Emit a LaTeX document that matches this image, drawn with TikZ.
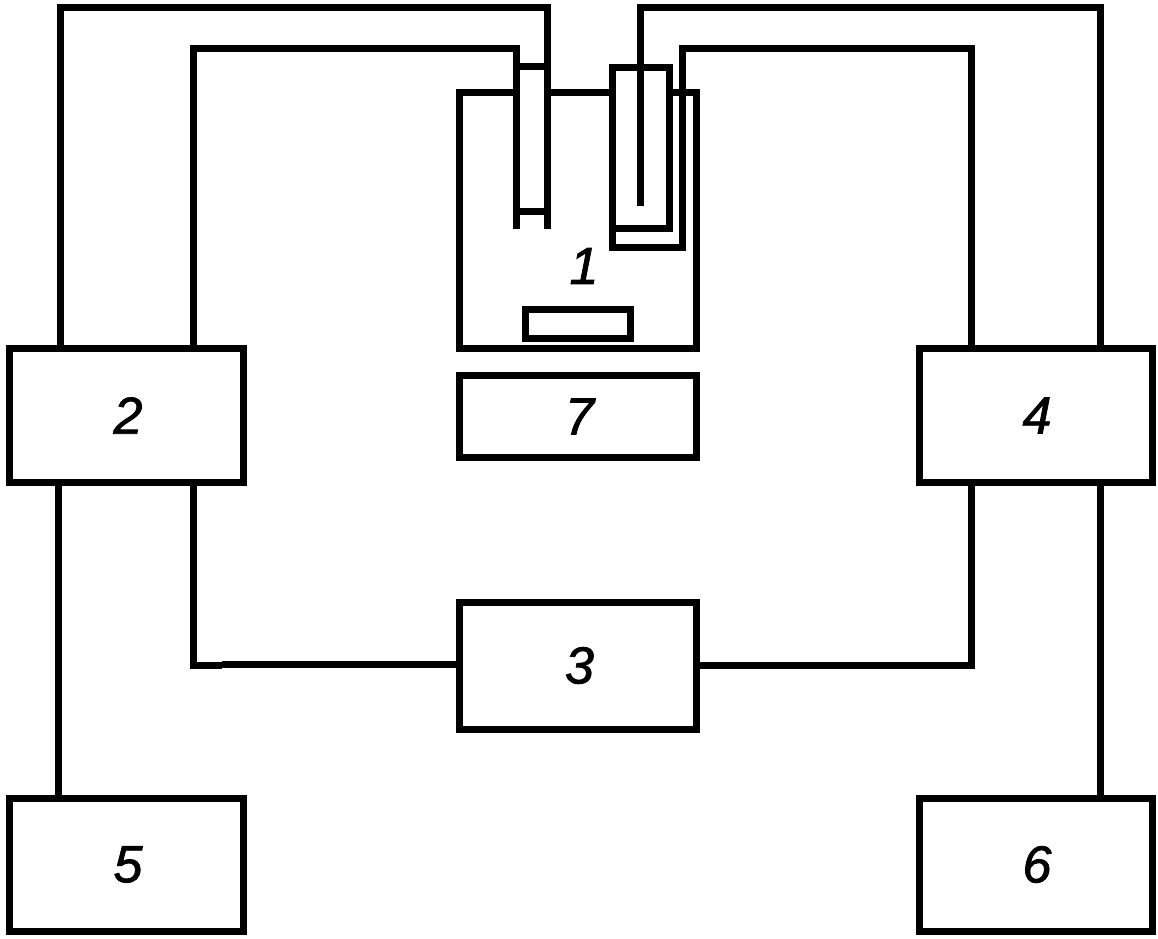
\documentclass[tikz,border=0pt]{standalone}
\usepackage{fontspec}
\setmainfont{Liberation Sans}
\newcommand{\numfmt}{\fontsize{52}{52}\selectfont\itshape\addfontfeature{FakeBold=1.5}}
\newcommand{\digit}[1]{\kern3pt\raisebox{-1pt}{#1}}
\begin{document}
\begin{tikzpicture}[x=1pt,y=-1pt,
  wire/.style={line width=7pt,draw=black,line cap=butt,line join=miter},
  blockbox/.style={draw=black,line width=7pt,rectangle,outer sep=0pt,inner sep=0pt,anchor=north west,font=\numfmt},
  numlabel/.style={inner sep=0pt,font=\numfmt}]
\useasboundingbox (0,0) rectangle (1158,938);
\fill[white] (0,0) rectangle (1158,938);
% blocks
\node[blockbox,minimum width=234pt,minimum height=134pt] (b2) at (9.5,348.5) {\digit{2}};
\node[blockbox,minimum width=233pt,minimum height=134pt] (b4) at (919,348.5) {\digit{4}};
\node[blockbox,minimum width=234pt,minimum height=133pt] (b5) at (9.5,798) {\digit{5}};
\node[blockbox,minimum width=233pt,minimum height=133pt] (b6) at (919,798) {\digit{6}};
\node[blockbox,minimum width=237pt,minimum height=127pt] (b3) at (459.5,602) {\digit{3}};
\node[blockbox,minimum width=237pt,minimum height=82pt] (b7) at (459.5,375.5) {\digit{7}};
\node[blockbox,minimum width=104.5pt,minimum height=29.5pt] (sample) at (525.5,309) {};
\node[numlabel] (n1) at (584,266) {1};
% chamber (top side interrupted by the probes)
\coordinate (chTL) at (459.5,92);
\coordinate (chBL) at (459.5,348.5);
\coordinate (chBR) at (696.5,348.5);
\coordinate (chTR) at (696.5,92);
\coordinate (lpL) at (516,92);
\coordinate (lpR) at (547,92);
\coordinate (rpL) at (612,92);
\coordinate (rpR) at (669,92);
\draw[wire] (lpL) -- (chTL) -- (chBL) -- (chBR) -- (chTR) -- (rpR);
\draw[wire] (lpR) -- (rpL);
% left probe
\coordinate (a1) at (60,348.5);
\coordinate (a2) at (60,7);
\coordinate (a3) at (547,7);
\coordinate (a4) at (547,229);
\draw[wire] (a1) -- (a2) -- (a3) -- (a4);
\coordinate (c1) at (193,348.5);
\coordinate (c2) at (193,48);
\coordinate (c3) at (516,48);
\coordinate (c4) at (516,229);
\draw[wire] (c1) -- (c2) -- (c3) -- (c4);
\coordinate (r1a) at (516,66);
\coordinate (r1b) at (547,66);
\coordinate (r2a) at (516,211);
\coordinate (r2b) at (547,211);
\draw[wire] (r1a) -- (r1b);
\draw[wire] (r2a) -- (r2b);
% right probe
\coordinate (p1) at (612,67.5);
\coordinate (p2) at (669,67.5);
\coordinate (p3) at (669,228.5);
\coordinate (p4) at (612,228.5);
\draw[wire] (p1) -- (p2) -- (p3) -- (p4) -- cycle;
\coordinate (d1) at (1100,348.5);
\coordinate (d2) at (1100,7);
\coordinate (d3) at (640.5,7);
\coordinate (d4) at (640.5,206);
\draw[wire] (d1) -- (d2) -- (d3) -- (d4);
\coordinate (e1) at (971,348.5);
\coordinate (e2) at (971,48);
\coordinate (e3) at (682.5,48);
\coordinate (e4) at (682.5,247);
\coordinate (e5) at (612,247);
\coordinate (e6) at (612,228.5);
\draw[wire] (e1) -- (e2) -- (e3) -- (e4) -- (e5) -- (e6);
% lower connections
\coordinate (f1) at (58.5,482.5);
\coordinate (f2) at (58.5,798);
\draw[wire] (f1) -- (f2);
\coordinate (g1) at (193,482.5);
\coordinate (g2) at (193,665.5);
\coordinate (g3) at (222,665.5);
\draw[wire] (g1) -- (g2) -- (g3);
\coordinate (g4) at (222,664);
\draw[wire] (g4) -- (g4-|b3.west);
\coordinate (h1) at (971,482.5);
\coordinate (h2) at (971,665);
\draw[wire] (h1) -- (h2) -- (h2-|b3.east);
\coordinate (i1) at (1100,482.5);
\coordinate (i2) at (1100,798);
\draw[wire] (i1) -- (i2);
\end{tikzpicture}
\end{document}
